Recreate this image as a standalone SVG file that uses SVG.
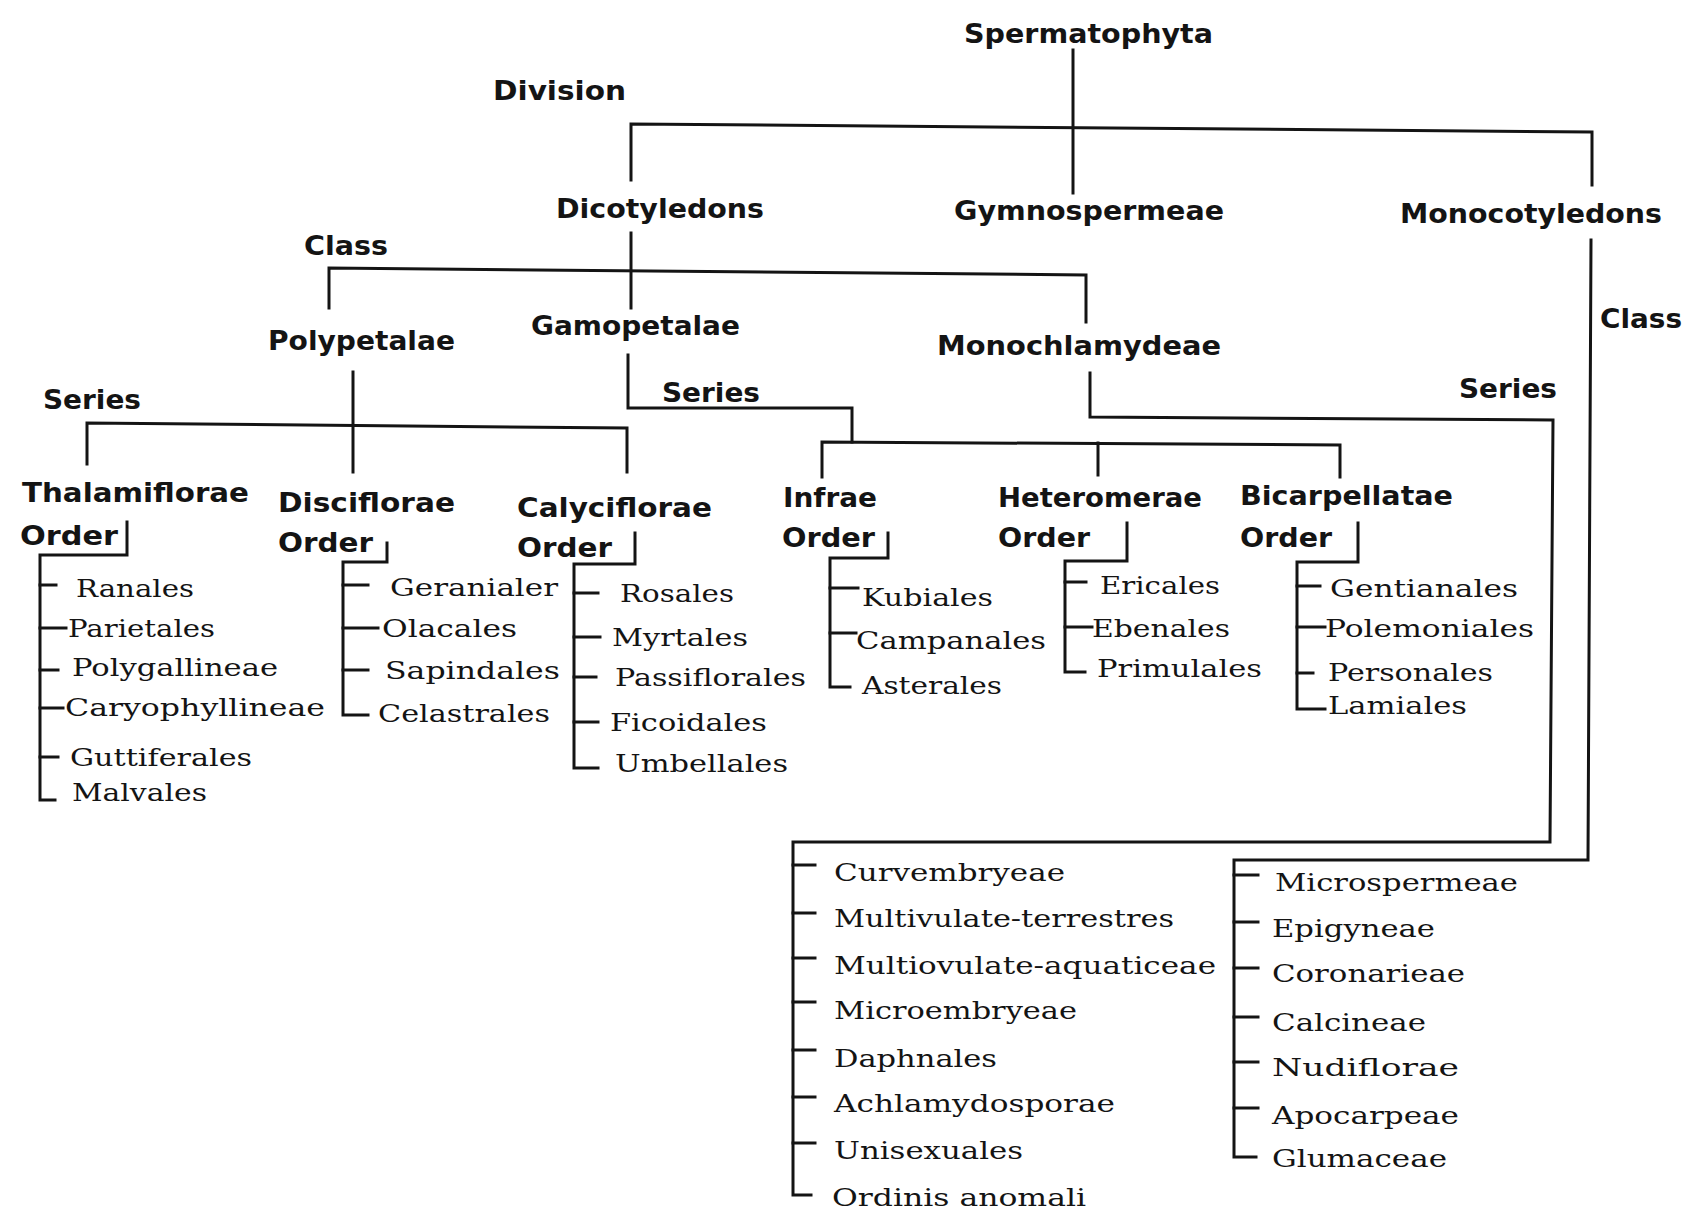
<svg xmlns="http://www.w3.org/2000/svg" width="1688" height="1212" viewBox="0 0 1688 1212">
<style>
.h{font-family:"DejaVu Sans","Noto Sans",sans-serif;font-weight:bold;font-size:26px;fill:#141414}
.i{font-family:"DejaVu Serif","Liberation Serif",serif;font-size:25px;fill:#141414}
.c line,.c polyline{stroke:#141414;stroke-width:3;fill:none;stroke-linecap:square}
</style>
<rect width="1688" height="1212" fill="#ffffff"/>
<g class="c" id="connectors">
<line x1="1073" y1="50" x2="1073" y2="193"/>
<polyline points="631,180 631,124 1592,132 1592,185"/>
<line x1="631" y1="233" x2="631" y2="308"/>
<polyline points="329,308 329,268 1086,275 1086,322"/>
<line x1="353" y1="372" x2="353" y2="472"/>
<polyline points="87,464 87,423 627,428 627,472"/>
<polyline points="628,355 628,408 852,408 852,442"/>
<polyline points="822,477 822,442 1340,445 1340,477"/>
<line x1="1098" y1="443" x2="1098" y2="475"/>
<polyline points="1090,373 1090,417 1553,420 1550,842 793,842 793,1195 811,1195"/>
<polyline points="1591,240 1588,860 1234,860 1234,1157 1256,1157"/>
<polyline points="127,522 127,555 40,555 40,800 55,800"/>
<polyline points="387,543 387,562 343,562 343,715 368,715"/>
<polyline points="635,533 635,564 574,564 574,768 598,768"/>
<polyline points="888,533 888,558 830,558 830,687 850,687"/>
<polyline points="1127,523 1127,561 1065,561 1065,672 1085,672"/>
<polyline points="1358,523 1358,562 1297,562 1297,709 1325,709"/>
<line x1="40" y1="585" x2="56" y2="585"/><line x1="40" y1="628" x2="66" y2="628"/><line x1="40" y1="670" x2="58" y2="670"/><line x1="40" y1="708" x2="63" y2="708"/><line x1="40" y1="757" x2="58" y2="757"/>
<line x1="343" y1="585" x2="368" y2="585"/><line x1="343" y1="628" x2="378" y2="628"/><line x1="343" y1="670" x2="368" y2="670"/>
<line x1="574" y1="593" x2="598" y2="593"/><line x1="574" y1="637" x2="600" y2="637"/><line x1="574" y1="677" x2="596" y2="677"/><line x1="574" y1="722" x2="598" y2="722"/>
<line x1="830" y1="588" x2="858" y2="588"/><line x1="830" y1="633" x2="856" y2="633"/>
<line x1="1065" y1="582" x2="1086" y2="582"/><line x1="1065" y1="627" x2="1092" y2="627"/>
<line x1="1297" y1="586" x2="1320" y2="586"/><line x1="1297" y1="627" x2="1325" y2="627"/><line x1="1297" y1="673" x2="1313" y2="673"/>
<line x1="793" y1="865" x2="815" y2="865"/><line x1="793" y1="913" x2="815" y2="913"/><line x1="793" y1="958" x2="815" y2="958"/><line x1="793" y1="1002" x2="815" y2="1002"/><line x1="793" y1="1050" x2="815" y2="1050"/><line x1="793" y1="1097" x2="815" y2="1097"/><line x1="793" y1="1143" x2="815" y2="1143"/>
<line x1="1234" y1="875" x2="1258" y2="875"/><line x1="1234" y1="922" x2="1258" y2="922"/><line x1="1234" y1="968" x2="1258" y2="968"/><line x1="1234" y1="1017" x2="1258" y2="1017"/><line x1="1234" y1="1062" x2="1258" y2="1062"/><line x1="1234" y1="1108" x2="1258" y2="1108"/>
</g>
<g id="labels-rank">
<text class="h" x="493" y="100" textLength="133" lengthAdjust="spacingAndGlyphs">Division</text>
<text class="h" x="304" y="255" textLength="84" lengthAdjust="spacingAndGlyphs">Class</text>
<text class="h" x="1600" y="328" textLength="82" lengthAdjust="spacingAndGlyphs">Class</text>
<text class="h" x="43" y="409" textLength="98" lengthAdjust="spacingAndGlyphs">Series</text>
<text class="h" x="662" y="402" textLength="98" lengthAdjust="spacingAndGlyphs">Series</text>
<text class="h" x="1459" y="398" textLength="98" lengthAdjust="spacingAndGlyphs">Series</text>
</g>
<g id="spermatophyta"><text class="h" x="964" y="43" textLength="249" lengthAdjust="spacingAndGlyphs">Spermatophyta</text></g>
<g id="dicotyledons"><text class="h" x="556" y="218" textLength="208" lengthAdjust="spacingAndGlyphs">Dicotyledons</text></g>
<g id="gymnospermeae"><text class="h" x="954" y="220" textLength="270" lengthAdjust="spacingAndGlyphs">Gymnospermeae</text></g>
<g id="monocotyledons"><text class="h" x="1400" y="223" textLength="262" lengthAdjust="spacingAndGlyphs">Monocotyledons</text></g>
<g id="polypetalae"><text class="h" x="268" y="350" textLength="187" lengthAdjust="spacingAndGlyphs">Polypetalae</text></g>
<g id="gamopetalae"><text class="h" x="531" y="335" textLength="209" lengthAdjust="spacingAndGlyphs">Gamopetalae</text></g>
<g id="monochlamydeae"><text class="h" x="937" y="355" textLength="284" lengthAdjust="spacingAndGlyphs">Monochlamydeae</text></g>
<g id="thalamiflorae"><text class="h" x="22" y="502" textLength="227" lengthAdjust="spacingAndGlyphs">Thalamiflorae</text><text class="h" x="20" y="545" textLength="98" lengthAdjust="spacingAndGlyphs">Order</text></g>
<g id="disciflorae"><text class="h" x="278" y="512" textLength="177" lengthAdjust="spacingAndGlyphs">Disciflorae</text><text class="h" x="278" y="552" textLength="95" lengthAdjust="spacingAndGlyphs">Order</text></g>
<g id="calyciflorae"><text class="h" x="517" y="517" textLength="195" lengthAdjust="spacingAndGlyphs">Calyciflorae</text><text class="h" x="517" y="557" textLength="95" lengthAdjust="spacingAndGlyphs">Order</text></g>
<g id="infrae"><text class="h" x="783" y="507" textLength="94" lengthAdjust="spacingAndGlyphs">Infrae</text><text class="h" x="782" y="547" textLength="93" lengthAdjust="spacingAndGlyphs">Order</text></g>
<g id="heteromerae"><text class="h" x="998" y="507" textLength="204" lengthAdjust="spacingAndGlyphs">Heteromerae</text><text class="h" x="998" y="547" textLength="92" lengthAdjust="spacingAndGlyphs">Order</text></g>
<g id="bicarpellatae"><text class="h" x="1240" y="505" textLength="213" lengthAdjust="spacingAndGlyphs">Bicarpellatae</text><text class="h" x="1240" y="547" textLength="92" lengthAdjust="spacingAndGlyphs">Order</text></g>
<g id="ranales"><text class="i" x="76" y="597" textLength="118" lengthAdjust="spacingAndGlyphs">Ranales</text></g>
<g id="parietales"><text class="i" x="68" y="637" textLength="147" lengthAdjust="spacingAndGlyphs">Parietales</text></g>
<g id="polygallineae"><text class="i" x="72" y="676" textLength="206" lengthAdjust="spacingAndGlyphs">Polygallineae</text></g>
<g id="caryophyllineae"><text class="i" x="65" y="716" textLength="260" lengthAdjust="spacingAndGlyphs">Caryophyllineae</text></g>
<g id="guttiferales"><text class="i" x="70" y="766" textLength="182" lengthAdjust="spacingAndGlyphs">Guttiferales</text></g>
<g id="malvales"><text class="i" x="72" y="801" textLength="135" lengthAdjust="spacingAndGlyphs">Malvales</text></g>
<g id="geraniales"><text class="i" x="390" y="596" textLength="168" lengthAdjust="spacingAndGlyphs">Geranialer</text></g>
<g id="olacales"><text class="i" x="382" y="637" textLength="135" lengthAdjust="spacingAndGlyphs">Olacales</text></g>
<g id="sapindales"><text class="i" x="385" y="679" textLength="175" lengthAdjust="spacingAndGlyphs">Sapindales</text></g>
<g id="celastrales"><text class="i" x="378" y="722" textLength="172" lengthAdjust="spacingAndGlyphs">Celastrales</text></g>
<g id="rosales"><text class="i" x="620" y="602" textLength="114" lengthAdjust="spacingAndGlyphs">Rosales</text></g>
<g id="myrtales"><text class="i" x="612" y="646" textLength="136" lengthAdjust="spacingAndGlyphs">Myrtales</text></g>
<g id="passiflorales"><text class="i" x="615" y="686" textLength="191" lengthAdjust="spacingAndGlyphs">Passiflorales</text></g>
<g id="ficoidales"><text class="i" x="610" y="731" textLength="157" lengthAdjust="spacingAndGlyphs">Ficoidales</text></g>
<g id="umbellales"><text class="i" x="615" y="772" textLength="173" lengthAdjust="spacingAndGlyphs">Umbellales</text></g>
<g id="rubiales"><text class="i" x="862" y="606" textLength="131" lengthAdjust="spacingAndGlyphs">Kubiales</text></g>
<g id="campanales"><text class="i" x="856" y="649" textLength="190" lengthAdjust="spacingAndGlyphs">Campanales</text></g>
<g id="asterales"><text class="i" x="862" y="694" textLength="140" lengthAdjust="spacingAndGlyphs">Asterales</text></g>
<g id="ericales"><text class="i" x="1100" y="594" textLength="120" lengthAdjust="spacingAndGlyphs">Ericales</text></g>
<g id="ebenales"><text class="i" x="1092" y="637" textLength="138" lengthAdjust="spacingAndGlyphs">Ebenales</text></g>
<g id="primulales"><text class="i" x="1097" y="677" textLength="165" lengthAdjust="spacingAndGlyphs">Primulales</text></g>
<g id="gentianales"><text class="i" x="1330" y="597" textLength="188" lengthAdjust="spacingAndGlyphs">Gentianales</text></g>
<g id="polemoniales"><text class="i" x="1325" y="637" textLength="209" lengthAdjust="spacingAndGlyphs">Polemoniales</text></g>
<g id="personales"><text class="i" x="1328" y="681" textLength="165" lengthAdjust="spacingAndGlyphs">Personales</text></g>
<g id="lamiales"><text class="i" x="1328" y="714" textLength="139" lengthAdjust="spacingAndGlyphs">Lamiales</text></g>
<g id="curvembryeae"><text class="i" x="834" y="881" textLength="231" lengthAdjust="spacingAndGlyphs">Curvembryeae</text></g>
<g id="multiovulatae-terrestres"><text class="i" x="834" y="927" textLength="340" lengthAdjust="spacingAndGlyphs">Multivulate-terrestres</text></g>
<g id="multiovulatae-aquaticae"><text class="i" x="834" y="974" textLength="382" lengthAdjust="spacingAndGlyphs">Multiovulate-aquaticeae</text></g>
<g id="microembryeae"><text class="i" x="834" y="1019" textLength="243" lengthAdjust="spacingAndGlyphs">Microembryeae</text></g>
<g id="daphnales"><text class="i" x="834" y="1067" textLength="163" lengthAdjust="spacingAndGlyphs">Daphnales</text></g>
<g id="achlamydosporae"><text class="i" x="834" y="1112" textLength="281" lengthAdjust="spacingAndGlyphs">Achlamydosporae</text></g>
<g id="unisexuales"><text class="i" x="834" y="1159" textLength="189" lengthAdjust="spacingAndGlyphs">Unisexuales</text></g>
<g id="ordinis-anomali"><text class="i" x="832" y="1206" textLength="254" lengthAdjust="spacingAndGlyphs">Ordinis anomali</text></g>
<g id="microspermeae"><text class="i" x="1275" y="891" textLength="243" lengthAdjust="spacingAndGlyphs">Microspermeae</text></g>
<g id="epigyneae"><text class="i" x="1272" y="937" textLength="163" lengthAdjust="spacingAndGlyphs">Epigyneae</text></g>
<g id="coronarieae"><text class="i" x="1272" y="982" textLength="193" lengthAdjust="spacingAndGlyphs">Coronarieae</text></g>
<g id="calycineae"><text class="i" x="1272" y="1031" textLength="154" lengthAdjust="spacingAndGlyphs">Calcineae</text></g>
<g id="nudiflorae"><text class="i" x="1272" y="1076" textLength="187" lengthAdjust="spacingAndGlyphs">Nudiflorae</text></g>
<g id="apocarpeae"><text class="i" x="1272" y="1124" textLength="187" lengthAdjust="spacingAndGlyphs">Apocarpeae</text></g>
<g id="glumaceae"><text class="i" x="1272" y="1167" textLength="175" lengthAdjust="spacingAndGlyphs">Glumaceae</text></g>
</svg>
